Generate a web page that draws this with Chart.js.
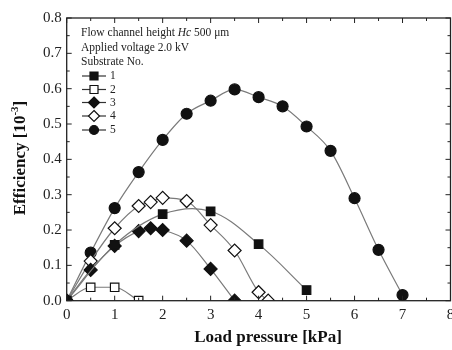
<!DOCTYPE html>
<html>
<head>
<meta charset="utf-8">
<script src="https://cdn.jsdelivr.net/npm/chart.js@4.4.0/dist/chart.umd.min.js"></script>
<style>
  html, body { margin: 0; padding: 0; background: #fff; }
  #wrap { width: 452px; height: 350px; }
</style>
</head>
<body>
<div id="wrap"><canvas id="chart" width="452" height="350"></canvas></div>
<script>
// Data (load pressure in kPa, efficiency in 1e-3)
const xTicks = [0, 1, 2, 3, 4, 5, 6, 7, 8];
const yTicks = [0.0, 0.1, 0.2, 0.3, 0.4, 0.5, 0.6, 0.7, 0.8];

const sub1X = [0, 1, 2, 3, 4, 5];
const sub1Y = [0, 0.158, 0.245, 0.253, 0.16, 0.03];

const sub2X = [0, 0.5, 1, 1.5];
const sub2Y = [0, 0.038, 0.038, 0.0];

const sub3X = [0, 0.5, 1, 1.5, 1.75, 2, 2.5, 3, 3.5];
const sub3Y = [0, 0.087, 0.155, 0.197, 0.205, 0.2, 0.17, 0.09, 0.0];

const sub4X = [0, 0.5, 1, 1.5, 1.75, 2, 2.5, 3, 3.5, 4, 4.2];
const sub4Y = [0, 0.112, 0.205, 0.268, 0.279, 0.291, 0.282, 0.214, 0.142, 0.024, 0.0];

const sub5X = [0, 0.5, 1, 1.5, 2, 2.5, 3, 3.5, 4, 4.5, 5, 5.5, 6, 6.5, 7];
const sub5Y = [0, 0.136, 0.262, 0.364, 0.455, 0.529, 0.566, 0.598, 0.576, 0.55, 0.493, 0.424, 0.29, 0.144, 0.016];

const seriesNames = ['1', '2', '3', '4', '5'];

function pts(xs, ys) {
    return xs.map((x, i) => ({ x: x, y: ys[i] }));
}

const lineGray = '#7a7a7a';
const serif = '"Liberation Serif", "DejaVu Serif", serif';

function makeSet(label, xs, ys, style, filled, radius) {
    return {
        label: label,
        data: pts(xs, ys),
        showLine: true,
        borderColor: lineGray,
        borderWidth: 1.2,
        cubicInterpolationMode: 'monotone',
        pointStyle: style,
        pointRadius: radius,
        pointHoverRadius: radius,
        pointBackgroundColor: filled ? '#111' : '#fff',
        pointBorderColor: '#111',
        pointBorderWidth: 1.2
    };
}

const datasets = [
    makeSet(seriesNames[0], sub1X, sub1Y, 'rect', true, 6),
    makeSet(seriesNames[1], sub2X, sub2Y, 'rect', false, 6),
    makeSet(seriesNames[2], sub3X, sub3Y, 'rectRot', true, 6.5),
    makeSet(seriesNames[3], sub4X, sub4Y, 'rectRot', false, 6.5),
    makeSet(seriesNames[4], sub5X, sub5Y, 'circle', true, 5.5)
];
// substrate 1 is a looser fitted curve in the figure
datasets[0].cubicInterpolationMode = 'default';
datasets[0].tension = 0.35;

// small marker for the legend rows
function legendMarker(ctx, style, x, y, fill) {
    ctx.beginPath();
    if (style === 'circle') {
        ctx.arc(x, y, 4.5, 0, Math.PI * 2);
    } else if (style === 'rect') {
        ctx.rect(x - 4, y - 4, 8, 8);
    } else {
        ctx.moveTo(x, y - 5.5); ctx.lineTo(x + 5.5, y);
        ctx.lineTo(x, y + 5.5); ctx.lineTo(x - 5.5, y);
        ctx.closePath();
    }
    ctx.fillStyle = fill;
    ctx.fill();
    ctx.strokeStyle = '#111';
    ctx.lineWidth = 1.2;
    ctx.stroke();
}

// Frame, inward ticks, x labels, axis titles and the in-plot legend
const decorations = {
    id: 'decorations',
    afterDatasetsDraw(chart) {
        const ctx = chart.ctx;
        const a = chart.chartArea;
        const xs = chart.scales.x;
        const ys = chart.scales.y;
        ctx.save();
        ctx.strokeStyle = '#222';
        ctx.lineWidth = 1.3;
        ctx.strokeRect(a.left, a.top, a.right - a.left, a.bottom - a.top);

        ctx.lineWidth = 1;
        for (let i = 0; i <= 16; i++) {
            const px = xs.getPixelForValue(i * 0.5);
            const len = i % 2 === 0 ? 5 : 3;
            ctx.beginPath();
            ctx.moveTo(px, a.bottom); ctx.lineTo(px, a.bottom - len);
            ctx.moveTo(px, a.top); ctx.lineTo(px, a.top + len);
            ctx.stroke();
        }
        for (let i = 0; i <= 16; i++) {
            const py = ys.getPixelForValue(i * 0.05);
            const len = i % 2 === 0 ? 5 : 3;
            ctx.beginPath();
            ctx.moveTo(a.left, py); ctx.lineTo(a.left + len, py);
            ctx.moveTo(a.right, py); ctx.lineTo(a.right - len, py);
            ctx.stroke();
        }

        // x tick labels (drawn here so the last one may run off the edge)
        ctx.fillStyle = '#222';
        ctx.font = '15px ' + serif;
        ctx.textAlign = 'center';
        ctx.textBaseline = 'middle';
        xTicks.forEach(v => {
            ctx.fillText(String(v), xs.getPixelForValue(v), a.bottom + 14);
        });

        // axis titles
        ctx.fillStyle = '#111';
        ctx.font = 'bold 17px ' + serif;
        ctx.fillText('Load pressure [kPa]', 268, 338);

        ctx.save();
        ctx.translate(21, 158);
        ctx.rotate(-Math.PI / 2);
        const main = 'Efficiency [10';
        const sup = '-3';
        const tail = ']';
        ctx.font = 'bold 17px ' + serif;
        const wMain = ctx.measureText(main).width;
        const wTail = ctx.measureText(tail).width;
        ctx.font = 'bold 11px ' + serif;
        const wSup = ctx.measureText(sup).width;
        let cx = -(wMain + wSup + wTail) / 2;
        ctx.textAlign = 'left';
        ctx.font = 'bold 17px ' + serif;
        ctx.fillText(main, cx, 0);
        cx += wMain;
        ctx.font = 'bold 11px ' + serif;
        ctx.fillText(sup, cx, -6);
        cx += wSup;
        ctx.font = 'bold 17px ' + serif;
        ctx.fillText(tail, cx, 0);
        ctx.restore();

        // legend block
        ctx.textAlign = 'left';
        ctx.textBaseline = 'middle';
        ctx.fillStyle = '#222';
        ctx.font = '11.5px ' + serif;
        let tx = 81;
        const p1 = 'Flow channel height ';
        ctx.fillText(p1, tx, 33);
        tx += ctx.measureText(p1).width;
        ctx.font = 'italic 11.5px ' + serif;
        ctx.fillText('Hc', tx, 33);
        tx += ctx.measureText('Hc').width;
        ctx.font = '11.5px ' + serif;
        ctx.fillText(' 500 \u03bcm', tx, 33);
        ctx.fillText('Applied voltage 2.0 kV', 81, 47.5);
        ctx.fillText('Substrate No.', 81, 62);

        const rowY = [76, 89.5, 102.5, 116, 130];
        datasets.forEach((ds, i) => {
            const y = rowY[i];
            ctx.strokeStyle = '#333';
            ctx.lineWidth = 1.2;
            ctx.beginPath();
            ctx.moveTo(82, y); ctx.lineTo(106, y);
            ctx.stroke();
            legendMarker(ctx, ds.pointStyle, 94, y, ds.pointBackgroundColor);
            ctx.fillStyle = '#222';
            ctx.font = '11.5px ' + serif;
            ctx.fillText(ds.label, 110, y);
        });
        ctx.restore();
    }
};

new Chart(document.getElementById('chart').getContext('2d'), {
    type: 'scatter',
    data: { datasets: datasets },
    plugins: [decorations],
    options: {
        responsive: false,
        animation: false,
        layout: { autoPadding: false, padding: { left: 0, right: 1.5, top: 18, bottom: 0 } },
        plugins: {
            legend: { display: false },
            tooltip: { enabled: false }
        },
        scales: {
            x: {
                type: 'linear',
                min: 0,
                max: 8,
                afterBuildTicks: (s) => { s.ticks = xTicks.map(v => ({ value: v })); },
                afterFit: (s) => { s.height = 49.3; },
                grid: { display: false, drawTicks: false },
                border: { display: false },
                ticks: { display: false }
            },
            y: {
                type: 'linear',
                min: 0,
                max: 0.8,
                afterBuildTicks: (s) => { s.ticks = yTicks.map(v => ({ value: v })); },
                afterFit: (s) => { s.width = 66.7; },
                grid: { display: false, drawTicks: false },
                border: { display: false },
                ticks: {
                    color: '#222',
                    padding: 5,
                    font: { family: serif, size: 15 },
                    callback: (v) => Number(v).toFixed(1)
                }
            }
        }
    }
});
</script>
</body>
</html>
